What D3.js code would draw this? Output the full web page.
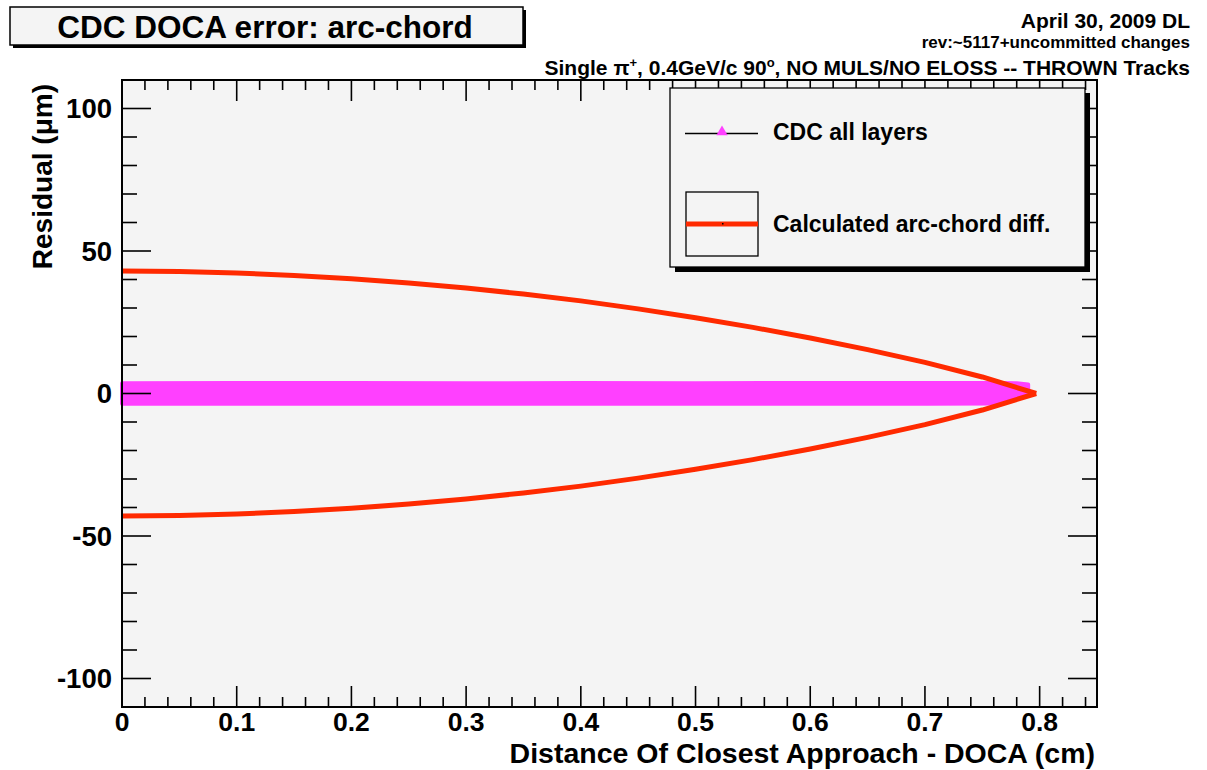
<!DOCTYPE html>
<html>
<head>
<meta charset="utf-8">
<script src="https://cdn.jsdelivr.net/npm/d3@7"></script>
<style>
  html, body { margin: 0; padding: 0; background: #ffffff; }
  svg { display: block; }
  text { font-family: "Liberation Sans", Arial, Helvetica, sans-serif; font-weight: bold; fill: #000; }
</style>
</head>
<body>
<svg id="chart" width="1207" height="770"></svg>
<script>
// ---------------- data ----------------
const chartTitle = "CDC DOCA error: arc-chord";
const xTitle = "Distance Of Closest Approach - DOCA (cm)";
const yTitle = "Residual (\u03BCm)";
const xTickValues = [0, 0.1, 0.2, 0.3, 0.4, 0.5, 0.6, 0.7, 0.8];
const xTickLabels = ["0", "0.1", "0.2", "0.3", "0.4", "0.5", "0.6", "0.7", "0.8"];
const yTickValues = [-100, -50, 0, 50, 100];
const yTickLabels = ["-100", "-50", "0", "50", "100"];
const seriesNames = ["CDC all layers", "Calculated arc-chord diff."];

// calculated arc-chord difference (upper branch, um) vs DOCA (cm)
const arcX = [0, 0.05, 0.10, 0.15, 0.20, 0.25, 0.30, 0.35, 0.40, 0.45, 0.50, 0.55, 0.60, 0.65, 0.70, 0.75, 0.797];
const arcUpper = [43.0, 42.8, 42.3, 41.4, 40.3, 38.8, 37.0, 34.9, 32.5, 29.7, 26.6, 23.2, 19.5, 15.4, 10.9, 5.8, 0];
const arcLower = [-43.0, -42.8, -42.3, -41.4, -40.3, -38.8, -37.0, -34.9, -32.5, -29.7, -26.6, -23.2, -19.5, -15.4, -10.9, -5.8, 0];

// CDC residual band envelope (um) vs DOCA (cm)
const cdcX = [0, 0.10, 0.20, 0.30, 0.40, 0.50, 0.60, 0.70, 0.762, 0.78, 0.79];
const cdcHigh = [3.6, 3.7, 3.7, 3.6, 3.7, 3.6, 3.7, 3.7, 3.7, 3.6, 3.2];
const cdcLow = [-3.6, -3.6, -3.6, -3.6, -3.6, -3.6, -3.6, -3.6, -3.5, -2.0, 0];

// ---------------- layout ----------------
const svg = d3.select("#chart");
const W = 1207, H = 770;
const frame = { left: 122, right: 1097, top: 80, bottom: 707 };
const RED = "#ff2a00", MAG = "#ff40ff", PAD = "#f4f4f4";

const x = d3.scaleLinear().domain([0, 0.85]).range([frame.left, frame.right]);
const y = d3.scaleLinear().domain([-110, 110]).range([frame.bottom, frame.top]);

svg.append("rect").attr("width", W).attr("height", H).attr("fill", "#fff");

// plot pad
svg.append("rect")
  .attr("x", frame.left).attr("y", frame.top)
  .attr("width", frame.right - frame.left).attr("height", frame.bottom - frame.top)
  .attr("fill", PAD);

// CDC band
const bandData = cdcX.map((d, i) => ({ x: d, hi: cdcHigh[i], lo: cdcLow[i] }));
const area = d3.area().x(d => x(d.x)).y0(d => y(d.lo)).y1(d => y(d.hi));
svg.append("path").datum(bandData)
  .attr("d", area)
  .attr("fill", MAG).attr("stroke", MAG).attr("stroke-width", 4).attr("stroke-linejoin", "round");

// arc-chord curves
const line = d3.line().x(d => x(d[0])).y(d => y(d[1]));
[arcUpper, arcLower].forEach(arr => {
  svg.append("path").datum(arcX.map((d, i) => [d, arr[i]]))
    .attr("d", line).attr("fill", "none")
    .attr("stroke", RED).attr("stroke-width", 5)
    .attr("stroke-linejoin", "round").attr("stroke-linecap", "butt");
});

// axes (custom ROOT-like ticks)
const gAx = svg.append("g").attr("stroke", "#000").attr("stroke-width", 1.6);
const xMinor = d3.range(0, 0.8501, 0.02);
xMinor.forEach(v => {
  const isMajor = Math.abs(Math.round(v * 10) - v * 10) < 1e-6;
  const len = isMajor ? 21 : 10;
  const px = x(v);
  gAx.append("line").attr("x1", px).attr("x2", px).attr("y1", frame.bottom).attr("y2", frame.bottom - len);
  gAx.append("line").attr("x1", px).attr("x2", px).attr("y1", frame.top).attr("y2", frame.top + len);
});
const yMinor = d3.range(-100, 100.01, 10);
yMinor.forEach(v => {
  const isMajor = v % 50 === 0;
  const len = isMajor ? 29 : 15;
  const py = y(v);
  gAx.append("line").attr("y1", py).attr("y2", py).attr("x1", frame.left).attr("x2", frame.left + len);
  gAx.append("line").attr("y1", py).attr("y2", py).attr("x1", frame.right).attr("x2", frame.right - len);
});

// frame
svg.append("rect")
  .attr("x", frame.left).attr("y", frame.top)
  .attr("width", frame.right - frame.left).attr("height", frame.bottom - frame.top)
  .attr("fill", "none").attr("stroke", "#000").attr("stroke-width", 2);

// tick labels
xTickValues.forEach((v, i) => {
  svg.append("text").attr("x", x(v)).attr("y", 731)
    .attr("text-anchor", "middle").attr("font-size", 26.5).text(xTickLabels[i]);
});
yTickValues.forEach((v, i) => {
  svg.append("text").attr("x", 112).attr("y", y(v) + 9.8)
    .attr("text-anchor", "end").attr("font-size", 27.5).text(yTickLabels[i]);
});

// axis titles
svg.append("text").attr("x", 1095).attr("y", 763)
  .attr("text-anchor", "end").attr("font-size", 28.5).text(xTitle);
svg.append("text").attr("transform", "translate(52,84) rotate(-90)")
  .attr("text-anchor", "end").attr("font-size", 28).text(yTitle);

// title box
svg.append("rect").attr("x", 13).attr("y", 10).attr("width", 513).attr("height", 38).attr("fill", "#000");
svg.append("rect").attr("x", 10).attr("y", 7).attr("width", 513).attr("height", 38)
  .attr("fill", PAD).attr("stroke", "#000").attr("stroke-width", 1.5);
svg.append("text").attr("x", 265).attr("y", 38).attr("text-anchor", "middle")
  .attr("font-size", 31.5).text(chartTitle);

// top-right annotations
svg.append("text").attr("x", 1190).attr("y", 28).attr("text-anchor", "end")
  .attr("font-size", 21).text("April 30, 2009 DL");
svg.append("text").attr("x", 1190).attr("y", 48).attr("text-anchor", "end")
  .attr("font-size", 17).text("rev:~5117+uncommitted changes");
const sub = svg.append("text").attr("x", 1190).attr("y", 75).attr("text-anchor", "end").attr("font-size", 21);
sub.append("tspan").text("Single \u03C0");
sub.append("tspan").attr("dy", -8).attr("font-size", 13).text("+");
sub.append("tspan").attr("dy", 8).text(", 0.4GeV/c 90");
sub.append("tspan").attr("dy", -8).attr("font-size", 13).text("o");
sub.append("tspan").attr("dy", 8).text(", NO MULS/NO ELOSS -- THROWN Tracks");

// legend
const lg = { x: 670, y: 88, w: 415, h: 179 };
svg.append("rect").attr("x", lg.x + 5).attr("y", lg.y + 5).attr("width", lg.w).attr("height", lg.h).attr("fill", "#000");
svg.append("rect").attr("x", lg.x).attr("y", lg.y).attr("width", lg.w).attr("height", lg.h)
  .attr("fill", PAD).attr("stroke", "#000").attr("stroke-width", 1.3);
// entry 1
svg.append("line").attr("x1", 685).attr("x2", 758).attr("y1", 133.5).attr("y2", 133.5)
  .attr("stroke", "#000").attr("stroke-width", 1.3);
svg.append("path").attr("d", d3.symbol().type(d3.symbolTriangle).size(55)())
  .attr("transform", "translate(722,132)").attr("fill", MAG);
svg.append("text").attr("x", 773).attr("y", 140).attr("font-size", 23).text(seriesNames[0]);
// entry 2
svg.append("rect").attr("x", 686).attr("y", 192).attr("width", 72).attr("height", 64)
  .attr("fill", "none").attr("stroke", "#000").attr("stroke-width", 1.3);
svg.append("line").attr("x1", 686).attr("x2", 758).attr("y1", 224).attr("y2", 224)
  .attr("stroke", RED).attr("stroke-width", 5);
svg.append("rect").attr("x", 722).attr("y", 223).attr("width", 1.5).attr("height", 1.5).attr("fill", "#000");
svg.append("text").attr("x", 773).attr("y", 232).attr("font-size", 23).text(seriesNames[1]);
</script>
</body>
</html>
